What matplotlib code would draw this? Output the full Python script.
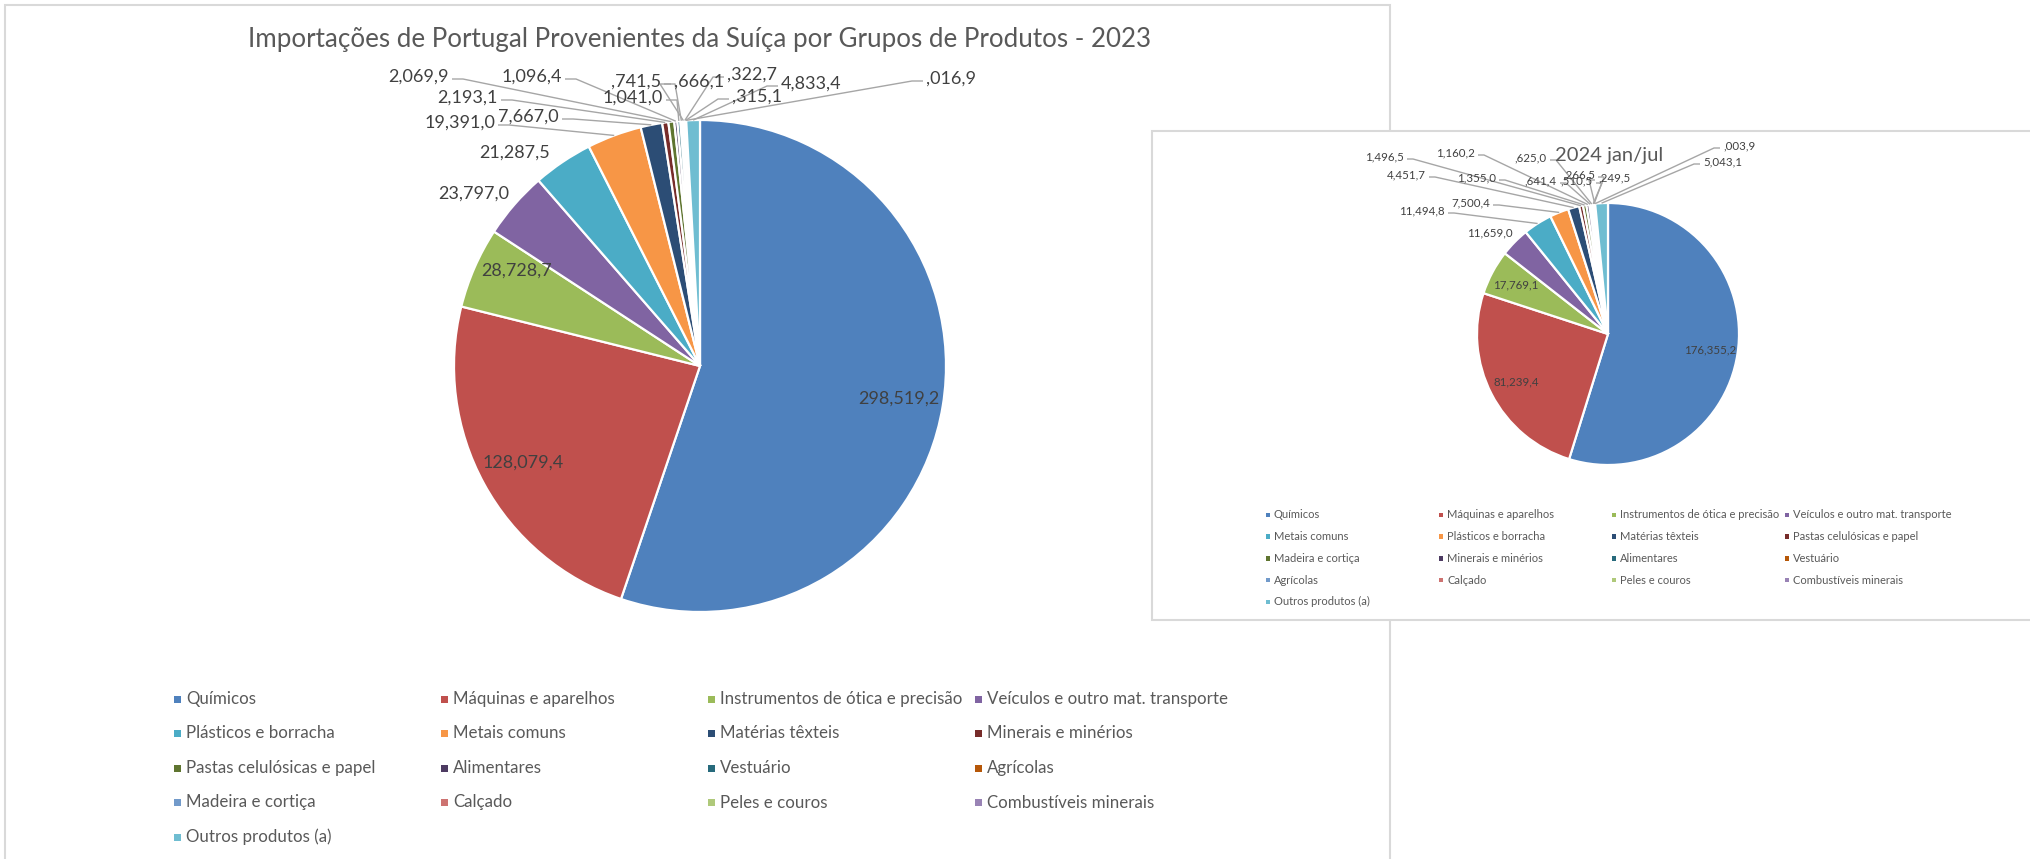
import matplotlib
matplotlib.use("Agg")
import numpy as np
import matplotlib.pyplot as plt
from matplotlib.patches import Rectangle

W, H = 2031, 859

# ---------------- data ----------------
categories_2023 = ["Químicos", "Máquinas e aparelhos", "Instrumentos de ótica e precisão",
                   "Veículos e outro mat. transporte", "Plásticos e borracha", "Metais comuns",
                   "Matérias têxteis", "Minerais e minérios", "Pastas celulósicas e papel",
                   "Alimentares", "Vestuário", "Agrícolas", "Madeira e cortiça", "Calçado",
                   "Peles e couros", "Combustíveis minerais", "Outros produtos (a)"]
values_2023 = [298519.2, 128079.4, 28728.7, 23797.0, 21287.5, 19391.0, 7667.0, 2193.1,
               2069.9, 1096.4, 1041.0, 741.5, 666.1, 322.7, 315.1, 16.9, 4833.4]

categories_2024 = ["Químicos", "Máquinas e aparelhos", "Instrumentos de ótica e precisão",
                   "Veículos e outro mat. transporte", "Metais comuns", "Plásticos e borracha",
                   "Matérias têxteis", "Pastas celulósicas e papel", "Madeira e cortiça",
                   "Minerais e minérios", "Alimentares", "Vestuário", "Agrícolas", "Calçado",
                   "Peles e couros", "Combustíveis minerais", "Outros produtos (a)"]
values_2024 = [176355.2, 81239.4, 17769.1, 11659.0, 11494.8, 7500.4, 4451.7, 1496.5,
               1355.0, 1160.2, 641.4, 625.0, 510.5, 266.5, 249.5, 3.9, 5043.1]

title_2023 = "Importações de Portugal Provenientes da Suíça por Grupos de Produtos - 2023"
title_2024 = "2024 jan/jul"

palette = ["#4F81BD", "#C0504D", "#9BBB59", "#8064A2", "#4BACC6", "#F79646",
           "#2C4D75", "#772C2A", "#5F7530", "#4D3B62", "#276A7C", "#B65708",
           "#729ACA", "#CD7371", "#AFC97A", "#9983B5", "#6FBDD1"]


def fmt(v):
    tenths = int(round(v * 10))
    dec = tenths % 10
    ip = tenths // 10
    thou = ip // 1000
    rest = ip % 1000
    head = f"{thou}" if thou else ""
    return f"{head},{rest:03d},{dec}"


plt.rcParams['font.family'] = ['Lato', 'DejaVu Sans']

fig = plt.figure(figsize=(W / 100, H / 100), dpi=100)
ax = fig.add_axes([0, 0, 1, 1])


def Y(py):
    return H - py


TXT = "#595959"
LBL = "#404040"
LEAD = "#A6A6A6"

# ---------------- frames ----------------
ax.add_patch(Rectangle((5, -20), 1385, Y(5) + 20, fill=False, edgecolor="#D9D9D9",
                       linewidth=1.5, zorder=0))
ax.add_patch(Rectangle((1152, Y(620)), 1000, 620 - 131, facecolor="white",
                       edgecolor="#D9D9D9", linewidth=1.5, zorder=5))


def draw_chart(values, cats, center, R, inner_pos, inner_fs, out_fs,
               plain_pos, leader_pos, seg, z, leg):
    cx, cy = center
    wedges, _ = ax.pie(values, colors=palette[:len(values)], startangle=90,
                       counterclock=False, center=(cx, Y(cy)), radius=R,
                       wedgeprops=dict(edgecolor="white", linewidth=1.6, zorder=z))
    mids = [np.deg2rad((w.theta1 + w.theta2) / 2) for w in wedges]
    labels = [fmt(v) for v in values]
    # inner labels: (radius fraction, angular shift in degrees)
    for i, (f, shift) in inner_pos.items():
        a = mids[i] + np.deg2rad(shift)
        ax.text(cx + f * R * np.cos(a), Y(cy) + f * R * np.sin(a), labels[i],
                ha="center", va="center", fontsize=inner_fs, color=LBL, zorder=z + 2)
    # labels without leader
    for i, (px, py) in plain_pos.items():
        ax.text(px, Y(py), labels[i], ha="center", va="center", fontsize=out_fs,
                color=LBL, zorder=z + 2)
    # labels with leader lines
    for i, (px, py, side) in leader_pos.items():
        a = mids[i]
        tx, ty = cx + R * np.cos(a), Y(cy) + R * np.sin(a)
        s = 1 if side == "r" else -1
        ha = "right" if side == "r" else "left"
        ax.text(px, Y(py), labels[i], ha=ha, va="center", fontsize=out_fs, color=LBL,
                zorder=z + 2)
        ly = Y(py) - 2
        ax.plot([px + s * 3, px + s * seg, tx], [ly, ly, ty], color=LEAD, lw=1.0,
                zorder=z + 1, solid_capstyle="butt")
    # legend
    x0, dx, y0, dy, ms, gap, fs = leg
    for i, c in enumerate(cats):
        col, row = i % 4, i // 4
        x = x0 + col * dx
        y = Y(y0 + row * dy)
        ax.add_patch(Rectangle((x - ms / 2, y - ms / 2), ms, ms, facecolor=palette[i],
                               edgecolor="none", zorder=z))
        ax.text(x + gap, y, c, ha="left", va="center", fontsize=fs, color=TXT, zorder=z + 2)


# ---------------- left chart (2023) ----------------
ax.text(700, Y(39), title_2023, ha="center", va="center", fontsize=18.7, color=TXT, zorder=3)
draw_chart(values_2023, categories_2023, (700, 366), 246,
           inner_pos={0: (0.82, 0), 1: (0.82, 0), 2: (0.84, -4)}, inner_fs=13, out_fs=13,
           plain_pos={4: (515, 153), 3: (474, 194)},
           leader_pos={5: (495, 123, "r"), 6: (559, 117, "r"), 7: (498, 98, "r"),
                       8: (449, 77, "r"), 9: (562, 77, "r"), 10: (663, 98, "r"),
                       11: (661, 82, "r"), 12: (674, 82, "l"), 13: (727, 75, "l"),
                       14: (732, 97, "l"), 15: (926, 79, "l"), 16: (781, 84, "l")},
           seg=14, z=1,
           leg=(177, 267, 699, 34.5, 7, 9, 12.2))

# ---------------- right chart (2024 jan/jul) ----------------
ax.text(1609, Y(155), title_2024, ha="center", va="center", fontsize=14.5, color=TXT, zorder=8)
draw_chart(values_2024, categories_2024, (1608, 334), 131,
           inner_pos={0: (0.79, 0), 1: (0.79, 0), 2: (0.8, 0)}, inner_fs=8.3, out_fs=8.3,
           plain_pos={3: (1490, 233)},
           leader_pos={4: (1445, 211, "r"), 5: (1490, 203, "r"), 6: (1426, 175, "r"),
                       7: (1404, 157, "r"), 8: (1496, 178, "r"), 9: (1475, 153, "r"),
                       10: (1557, 181, "r"), 11: (1547, 158, "r"), 12: (1593, 181, "r"),
                       13: (1595, 175, "r"), 14: (1598, 178, "l"), 15: (1723, 146, "l"),
                       16: (1703, 162, "l")},
           seg=9, z=6,
           leg=(1268, 173, 515, 21.7, 4.5, 6, 8))

ax.set_xlim(0, W)
ax.set_ylim(0, H)
ax.set_aspect("auto")
ax.axis("off")

fig.savefig("out.png", dpi=100, facecolor="white")
